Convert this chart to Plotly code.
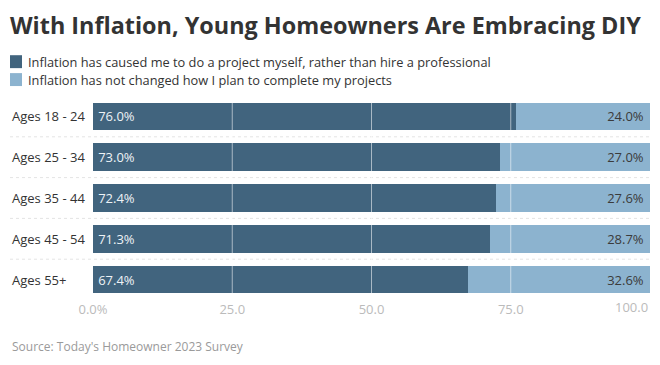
import plotly.graph_objects as go

categories = ["Ages 18 - 24", "Ages 25 - 34", "Ages 35 - 44", "Ages 45 - 54", "Ages 55+"]
diy_values = [76.0, 73.0, 72.4, 71.3, 67.4]
unchanged_values = [24.0, 27.0, 27.6, 28.7, 32.6]
series_names = [
    "Inflation has caused me to do a project myself, rather than hire a professional",
    "Inflation has not changed how I plan to complete my projects",
]
tick_vals = [0, 25, 50, 75, 100]
tick_text = ["0.0%", "25.0", "50.0", "75.0", "100.0"]
title_text = "With Inflation, Young Homeowners Are Embracing DIY"
source_text = "Source: Today's Homeowner 2023 Survey"

DARK = "#41647e"
LIGHT = "#8cb3cf"
FONT = "Open Sans"

W, H = 660, 365
ML, MR, MT, MB = 93, 10, 95.5, 64.5
PW = W - ML - MR
PH = H - MT - MB


def px_x(px):
    return (px - ML) / PW


def px_y(py):
    return (H - MB - py) / PH


fig = go.Figure()
fig.add_trace(go.Bar(
    y=categories, x=diy_values, orientation="h", name=series_names[0],
    marker=dict(color=DARK, line=dict(width=0)),
    text=[f"\u2009{v:.1f}%" for v in diy_values], textposition="inside",
    insidetextanchor="start", textfont=dict(color="#eef3f6", size=13, family=FONT),
    showlegend=False,
))
fig.add_trace(go.Bar(
    y=categories, x=unchanged_values, orientation="h", name=series_names[1],
    marker=dict(color=LIGHT, line=dict(width=0)),
    text=[f"{v:.1f}%\u00a0" for v in unchanged_values], textposition="inside",
    insidetextanchor="end", textfont=dict(color="#3b3b3b", size=13, family=FONT),
    showlegend=False,
))

shapes = []
# gridlines above bars
for v in tick_vals[1:-1]:
    shapes.append(dict(type="line", xref="x", yref="paper", x0=v, x1=v, y0=0, y1=1,
                       line=dict(color="rgba(255,255,255,0.55)", width=1), layer="above"))
# row separators
for i in range(len(categories) - 1):
    shapes.append(dict(type="line", xref="paper", yref="y", x0=px_x(10), x1=1,
                       y0=i + 0.5, y1=i + 0.5,
                       line=dict(color="#e4e4e4", width=1, dash="dot"), layer="below"))
# legend squares
for i, col in enumerate([DARK, LIGHT]):
    cy = 61 + 18 * i
    shapes.append(dict(type="rect", xref="paper", yref="paper",
                       x0=px_x(10), x1=px_x(22), y0=px_y(cy + 6.5), y1=px_y(cy - 6.5),
                       fillcolor=col, line=dict(width=0)))

annotations = []
for i, name in enumerate(series_names):
    cy = 61 + 18 * i
    annotations.append(dict(text=name, xref="paper", yref="paper", x=px_x(26), y=px_y(cy),
                            xanchor="left", yanchor="middle", showarrow=False,
                            font=dict(size=12.8, color="#333333", family=FONT)))
for c in categories:
    annotations.append(dict(text=c, xref="paper", yref="y", x=px_x(10), y=c,
                            xanchor="left", yanchor="middle", showarrow=False,
                            font=dict(size=13, color="#333333", family=FONT)))
annotations.append(dict(text=source_text, xref="paper", yref="paper", x=px_x(10), y=px_y(347),
                        xanchor="left", yanchor="middle", showarrow=False,
                        font=dict(size=12, color="#9a9a9a", family=FONT)))
# last x tick label is right-justified to the plot edge
annotations.append(dict(text=tick_text[-1], xref="x", yref="paper", x=tick_vals[-1],
                        y=px_y(308), xanchor="right", yanchor="middle", showarrow=False,
                        font=dict(size=13, color="#bbbbbb", family=FONT)))

fig.update_layout(
    width=W, height=H,
    margin=dict(l=ML, r=MR, t=MT, b=MB),
    paper_bgcolor="white", plot_bgcolor="white",
    barmode="stack", bargap=0.32,
    font=dict(family=FONT, color="#333333"),
    title=dict(text=title_text, x=10 / W, xanchor="left", xref="container",
               y=1 - 26 / H, yanchor="middle", yref="container",
               font=dict(size=23.4, color="#333333", family=FONT, weight="bold")),
    xaxis=dict(range=[0, 100], tickvals=tick_vals[:-1], ticktext=tick_text[:-1], showgrid=False,
               zeroline=False, showline=False, ticks="",
               tickfont=dict(size=13, color="#bbbbbb", family=FONT), fixedrange=True),
    yaxis=dict(autorange="reversed", showticklabels=False, showgrid=False, zeroline=False,
               showline=False, ticks="", fixedrange=True),
    shapes=shapes, annotations=annotations, showlegend=False,
)

fig.write_html("out.html", config={"displayModeBar": False},
               post_script="document.body.style.margin='0';")
